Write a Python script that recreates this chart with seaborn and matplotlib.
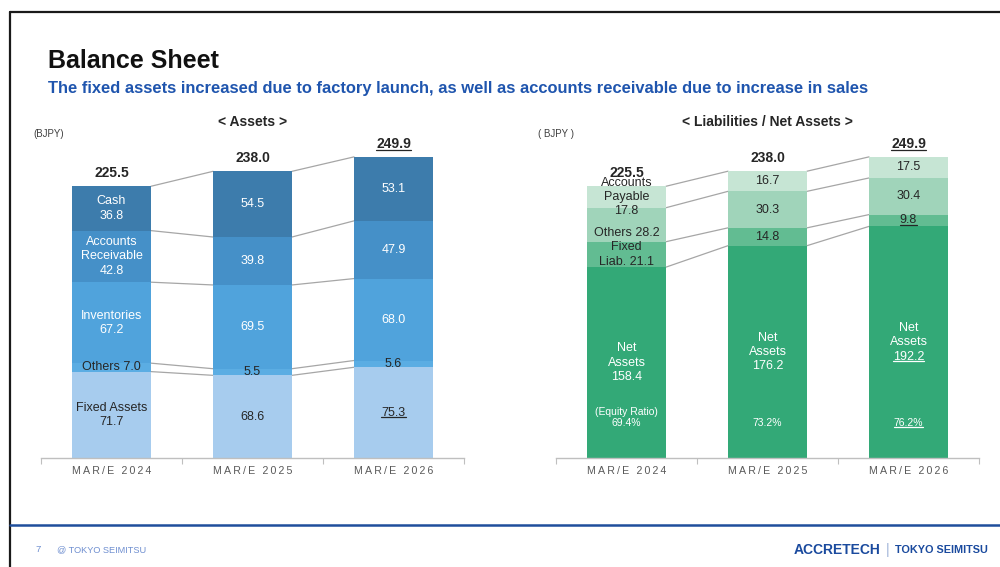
import numpy as np
import pandas as pd
import matplotlib
matplotlib.use("Agg")
import matplotlib.pyplot as plt
import seaborn as sns
from matplotlib.lines import Line2D

# ---- data (BJPY) ----
years = ["MAR/E 2024", "MAR/E 2025", "MAR/E 2026"]

# assets, bottom to top
fixed_assets = [71.7, 68.6, 75.3]
other_assets = [7.0, 5.5, 5.6]
inventories = [67.2, 69.5, 68.0]
receivables = [42.8, 39.8, 47.9]
cash = [36.8, 54.5, 53.1]
asset_totals = [225.5, 238.0, 249.9]
asset_labels = ["Fixed Assets\n{}", "Others {}", "Inventories\n{}", "Accounts\nReceivable\n{}", "Cash\n{}"]

# liabilities / net assets, bottom to top
net_assets = [158.4, 176.2, 192.2]
fixed_liab = [21.1, 14.8, 9.8]
other_liab = [28.2, 30.3, 30.4]
payables = [17.8, 16.7, 17.5]
liab_totals = [225.5, 238.0, 249.9]
liab_labels = ["Net\nAssets\n{}", "Fixed\nLiab. {}", "Others {}", "Accounts\nPayable\n{}"]
equity_ratio = [69.4, 73.2, 76.2]

# ---- style ----
asset_colors = ["#A7CCEE", "#5BADE3", "#50A3DC", "#4590C8", "#3D7CAC"]
asset_text = ["#262626", "#262626", "white", "white", "white"]
liab_colors = ["#33A977", "#62BC92", "#A0D4BA", "#C6E5D4"]
liab_text = ["white", "#262626", "#262626", "#262626"]
asset_underline = [True, False, False, False, False]   # last year only
liab_underline = [True, True, False, False]

BAR_W = 0.56
LINE_PT = 10.3
DARK = "#262626"

sns.set_theme(style="white")
plt.rcParams["font.family"] = ["Liberation Sans", "DejaVu Sans"]

fig = plt.figure(figsize=(10, 5.67), dpi=100)
to_underline = []


def fx(px):
    return px / 1000


def fy(py):
    return 1 - py / 567


def put_lines(ax, x, y, text, color, size=9, underline=False, nudge=0.0, weight="normal"):
    lines = text.split("\n")
    n = len(lines)
    for j, line in enumerate(lines):
        off = ((n - 1) / 2 - j) * LINE_PT + nudge
        t = ax.annotate(line, (x, y), xytext=(0, off), textcoords="offset points",
                        ha="center", va="center", color=color, fontsize=size, fontweight=weight)
        if underline and j == n - 1:
            to_underline.append(t)


def draw_stack(ax, layers, colors):
    df = pd.DataFrame(np.array(layers).T, index=years)
    cum = df.cumsum(axis=1)
    for k in reversed(range(len(layers))):
        sns.barplot(x=years, y=cum[k].values, color=colors[k], width=BAR_W, saturation=1,
                    errorbar=None, linewidth=0, ax=ax, zorder=2)
    # connector lines between the segment borders
    for k in range(len(layers)):
        for i in range(len(years) - 1):
            ax.plot([i + BAR_W / 2, i + 1 - BAR_W / 2], [cum[k].iloc[i], cum[k].iloc[i + 1]],
                    color="#A6A6A6", lw=0.9, zorder=1)
    return df, cum


def style_axis(ax):
    ax.set_ylim(0, 260)
    ax.set_xlim(-0.5, 2.5)
    ax.set_xlabel("")
    ax.set_ylabel("")
    ax.set_yticks([])
    sns.despine(ax=ax, left=True)
    ax.spines["bottom"].set_color("#BFBFBF")
    ax.spines["bottom"].set_linewidth(1)
    ax.set_xticks(range(len(years)))
    ax.set_xticklabels(["\u2009".join(y) for y in years], fontsize=7.7, color="#595959")
    ax.set_xticks([-0.5, 0.5, 1.5, 2.5], minor=True)
    ax.tick_params(axis="x", which="major", length=0, pad=6)
    ax.tick_params(axis="x", which="minor", length=4, width=0.8, color="#BFBFBF", bottom=True)


def stack_labels(ax, df, cum, names, text_colors, underline):
    for k in range(df.shape[1]):
        for i in range(len(years)):
            v = df.iloc[i, k]
            mid = cum.iloc[i, k] - v / 2
            txt = names[k].format(v) if (i == 0 or "Net" in names[k]) else "{}".format(v)
            nudge = -6 if (i == 0 and names[k] == "Others {}" and ax is ax_l) else 0
            put_lines(ax, i, mid, txt, text_colors[k], underline=(underline[k] and i == 2), nudge=nudge)


def totals(ax, vals):
    for i, v in enumerate(vals):
        put_lines(ax, i, v, "{:.1f}".format(v), DARK, size=10, weight="bold",
                  underline=(i == 2), nudge=9.2)


# ---- assets ----
bottom = (567 - 458) / 567
height = 260 * 1.205 / 567
ax_a = fig.add_axes([fx(41), bottom, 0.423, height])
ax_l = fig.add_axes([fx(556), bottom, 0.423, height])

df_a, cum_a = draw_stack(ax_a, [fixed_assets, other_assets, inventories, receivables, cash], asset_colors)
style_axis(ax_a)
stack_labels(ax_a, df_a, cum_a, asset_labels, asset_text, asset_underline)
totals(ax_a, asset_totals)

# ---- liabilities / net assets ----
df_l, cum_l = draw_stack(ax_l, [net_assets, fixed_liab, other_liab, payables], liab_colors)
style_axis(ax_l)
stack_labels(ax_l, df_l, cum_l, liab_labels, liab_text, liab_underline)
totals(ax_l, liab_totals)
for i, r in enumerate(equity_ratio):
    txt = "(Equity Ratio)\n{:.1f}%".format(r) if i == 0 else "{:.1f}%".format(r)
    n = txt.count("\n")
    ax_l.annotate(txt.split("\n")[-1], (i, 0), xytext=(0, 25), textcoords="offset points",
                  ha="center", va="center", color="white", fontsize=7.5)
    if i == 2:
        to_underline.append(ax_l.texts[-1])
    if n:
        ax_l.annotate(txt.split("\n")[0], (i, 0), xytext=(0, 33), textcoords="offset points",
                      ha="center", va="center", color="white", fontsize=7.5)

# ---- page texts ----
fig.text(fx(48), fy(61), "Balance Sheet", fontsize=18, fontweight="bold", color="#111111", va="center")
fig.text(fx(48), fy(88), "The fixed assets increased due to factory launch, as well as accounts receivable due to increase in sales",
         fontsize=11.9, fontweight="bold", color="#1F55AE", va="center")
fig.text(fx(252.5), fy(121.5), "< Assets >", fontsize=10, fontweight="bold", color=DARK, ha="center", va="center")
fig.text(fx(767.5), fy(121.5), "< Liabilities / Net Assets >", fontsize=10, fontweight="bold", color=DARK,
         ha="center", va="center")
fig.text(fx(33), fy(134), "(BJPY)", fontsize=7, color="#404040", va="center")
fig.text(fx(538), fy(134), "( BJPY )", fontsize=7, color="#404040", va="center")

# frame and footer
fig.add_artist(Line2D([fx(10), 1], [fy(11.5), fy(11.5)], color="#1A1A1A", lw=1.6))
fig.add_artist(Line2D([fx(10), fx(10)], [fy(11.5), 0], color="#1A1A1A", lw=1.6))
fig.add_artist(Line2D([fx(10), 1], [fy(525), fy(525)], color="#1F4E9C", lw=1.8))
fig.text(fx(35), fy(550), "7", fontsize=6.8, color="#6F8FD0", va="center")
fig.text(fx(57), fy(550), "@ TOKYO SEIMITSU", fontsize=6.6, color="#6F8FD0", va="center")
fig.text(fx(880), fy(550), "ACCRETECH", fontsize=10, fontweight="bold", color="#1A4A9E", va="center", ha="right")
fig.text(fx(888), fy(550), "|", fontsize=10, color="#9FB3D8", va="center", ha="center")
fig.text(fx(895), fy(550), "TOKYO SEIMITSU", fontsize=7.8, fontweight="bold", color="#1A4A9E", va="center")

# underlines under the plan figures
fig.canvas.draw()
renderer = fig.canvas.get_renderer()
inv = fig.transFigure.inverted()
for t in to_underline:
    bb = t.get_window_extent(renderer)
    (x0, y0), (x1, _) = inv.transform([(bb.x0, bb.y0 + 1.5), (bb.x1, bb.y0 + 1.5)])
    fig.add_artist(Line2D([x0, x1], [y0, y0], color=t.get_color(), lw=0.9))

fig.savefig("out.png", dpi=100)
